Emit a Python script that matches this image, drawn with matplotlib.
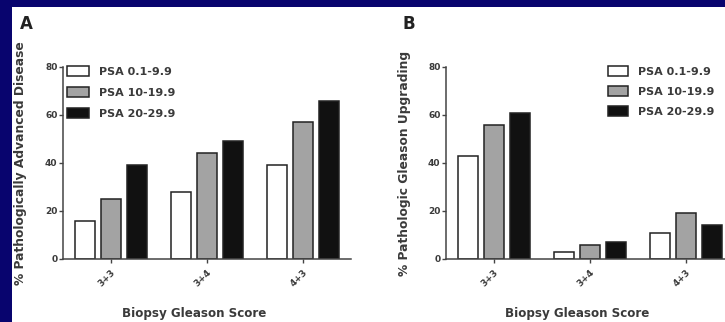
import numpy as np
import matplotlib.pyplot as plt
from matplotlib.patches import Rectangle

scores = ['3+3', '3+4', '4+3']
psa_groups = ['PSA 0.1-9.9', 'PSA 10-19.9', 'PSA 20-29.9']
colors = ['white', '#a3a3a3', '#111111']

# % pathologically advanced disease
advanced = {
    'PSA 0.1-9.9': [16, 28, 39],
    'PSA 10-19.9': [25, 44, 57],
    'PSA 20-29.9': [39, 49, 66],
}
# % pathologic Gleason upgrading
upgrading = {
    'PSA 0.1-9.9': [43, 3, 11],
    'PSA 10-19.9': [56, 6, 19],
    'PSA 20-29.9': [61, 7, 14],
}

W, H = 725, 322
fig = plt.figure(figsize=(W / 100, H / 100), dpi=100)
fig.patch.set_facecolor('#08046e')
fig.add_artist(Rectangle((12 / W, 0), 1, (H - 7) / H, transform=fig.transFigure,
                         facecolor='white', edgecolor='none', zorder=0))

txt = '#3a3a3a'


def panel(left, data, ylabel, letter, letter_x, ylab_off, leg_x, leg_pitch, hlen):
    ax = fig.add_axes([left / W, (H - 259) / H, 288 / W, 192 / H])
    x = np.arange(len(scores))
    width, step = 0.2, 0.27
    for i, g in enumerate(psa_groups):
        ax.bar(x + (i - 1) * step, data[g], width, color=colors[i],
               edgecolor='#222222', linewidth=1.1, label=g, zorder=2)
    ax.set_xlim(-0.5, 2.5)
    ax.set_ylim(0, 80)
    ax.set_yticks([0, 20, 40, 60, 80])
    ax.set_xticks(x)
    ax.set_xticklabels(scores, rotation=45, ha='right', rotation_mode='anchor',
                       fontsize=6.5, color=txt, fontweight='bold')
    for lab in ax.get_yticklabels():
        lab.set_fontweight('bold')
    ax.tick_params(axis='y', labelsize=6.5, labelcolor=txt, length=3, width=1, color='#444444', pad=1)
    ax.tick_params(axis='x', length=3, width=1, color='#444444', pad=3)
    for s in ['top', 'right']:
        ax.spines[s].set_visible(False)
    for s in ['left', 'bottom']:
        ax.spines[s].set_linewidth(1.1)
        ax.spines[s].set_color('#444444')
    ax.set_facecolor('none')
    ax.set_ylabel(ylabel, fontsize=8.8, fontweight='bold', color=txt)
    ax.yaxis.set_label_coords(-ylab_off / 288, 0.5)
    ax.set_xlabel('Biopsy Gleason Score', fontsize=8.6, fontweight='bold', color=txt)
    ax.xaxis.set_label_coords(0.455, -0.25)
    fig.text(letter_x / W, (H - 24) / H, letter, fontsize=12, fontweight='bold',
             color='#222222', va='center')
    ax.legend(loc='upper left', bbox_to_anchor=(leg_x / W, (H - 66) / H),
              bbox_transform=fig.transFigure, frameon=False,
              prop={'size': 8, 'weight': 'bold'},
              handlelength=hlen, handleheight=0.95, handletextpad=0.9,
              labelspacing=leg_pitch, borderpad=0, borderaxespad=0, labelcolor=txt)
    return ax


panel(63, advanced, '% Pathologically Advanced Disease', 'A', 20, 36, 67, 0.95, 2.0)
panel(446, upgrading, '% Pathologic Gleason Upgrading', 'B', 403, 35, 608, 0.85, 1.8)

fig.savefig('out.png', dpi=100)
